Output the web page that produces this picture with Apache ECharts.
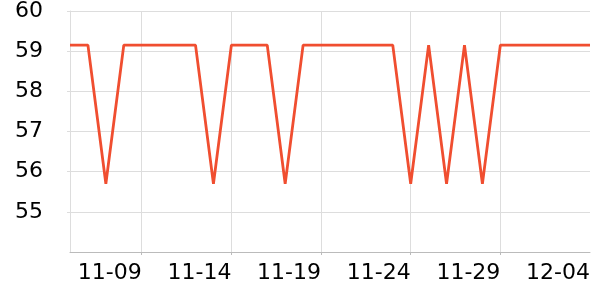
<!DOCTYPE html>
<html>
<head>
<meta charset="utf-8">
<script src="https://cdn.jsdelivr.net/npm/echarts@6/dist/echarts.min.js"></script>
<style>html,body{margin:0;padding:0;background:#fff}#c{width:600px;height:300px}</style>
</head>
<body>
<div id="c"></div>
<script>
const dates = ["11-05","11-06","11-07","11-08","11-09","11-10","11-11","11-12","11-13","11-14",
  "11-15","11-16","11-17","11-18","11-19","11-20","11-21","11-22","11-23","11-24",
  "11-25","11-26","11-27","11-28","11-29","11-30","12-01","12-02","12-03","12-04"];
const values = [59.15,59.15,55.7,59.15,59.15,59.15,59.15,59.15,55.7,59.15,
  59.15,59.15,55.7,59.15,59.15,59.15,59.15,59.15,59.15,55.7,
  59.15,55.7,59.15,55.7,59.15,59.15,59.15,59.15,59.15,59.15];
const yMin = 54, yMax = 60, yStep = 1;

const showTick = (i) => i % 5 === 4;
const showGrid = (i) => i % 5 === 4 && i < dates.length - 1;
const chart = echarts.init(document.getElementById('c'), null, {renderer: 'canvas'});
chart.setOption({
  animation: false,
  grid: {left: 70, right: 10, top: 10, bottom: 48, containLabel: false},
  xAxis: {
    type: 'category',
    data: dates,
    boundaryGap: false,
    axisLine: {lineStyle: {color: '#bbbbbb', width: 1}},
    axisTick: {show: true, length: 3, interval: showGrid, lineStyle: {color: '#bbbbbb'}},
    axisLabel: {interval: showTick, fontSize: 22, color: '#000', fontFamily: 'DejaVu Sans', align: 'right', margin: 10},
    splitLine: {show: true, interval: showGrid, lineStyle: {color: '#dddddd', width: 1}}
  },
  yAxis: {
    type: 'value',
    min: yMin, max: yMax, interval: yStep,
    axisLine: {show: true, lineStyle: {color: '#dddddd', width: 1}},
    axisTick: {show: true, length: 3, lineStyle: {color: '#dddddd'}},
    axisLabel: {showMinLabel: false, fontSize: 22, color: '#000', fontFamily: 'DejaVu Sans', margin: 27},
    splitLine: {show: true, lineStyle: {color: '#dddddd', width: 1}}
  },
  series: [{
    type: 'line',
    data: values,
    symbol: 'none',
    lineStyle: {color: '#f04e30', width: 2.8, join: 'bevel'},
    itemStyle: {color: '#f04e30'}
  }]
});
</script>
</body>
</html>
